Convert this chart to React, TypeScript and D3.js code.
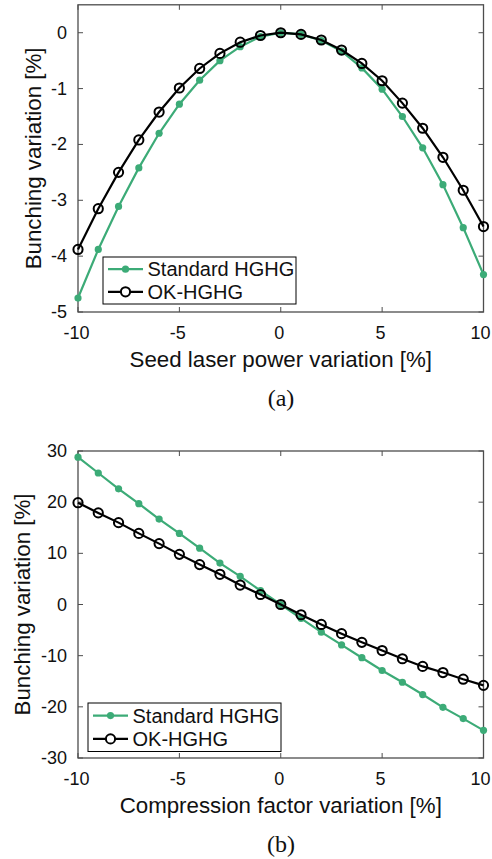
import React from 'react'
import * as d3 from 'd3'

// x positions shared by both panels
const variation = [-10, -9, -8, -7, -6, -5, -4, -3, -2, -1, 0, 1, 2, 3, 4, 5, 6, 7, 8, 9, 10]

// (a) seed laser power variation
const seedStandard = [-4.75, -3.88, -3.11, -2.42, -1.8, -1.28, -0.85, -0.5, -0.25, -0.07, 0, -0.03, -0.14, -0.33, -0.63, -1.01, -1.5, -2.06, -2.72, -3.49, -4.33]
const seedOK = [-3.88, -3.15, -2.5, -1.92, -1.42, -0.99, -0.64, -0.37, -0.17, -0.05, 0, -0.03, -0.13, -0.31, -0.55, -0.86, -1.26, -1.71, -2.23, -2.82, -3.47]

// (b) compression factor variation
const compStandard = [28.8, 25.7, 22.6, 19.7, 16.7, 13.9, 11.0, 8.1, 5.5, 2.7, 0, -2.7, -5.4, -7.9, -10.4, -12.9, -15.2, -17.6, -20.1, -22.3, -24.6]
const compOK = [19.9, 17.9, 16.0, 13.9, 11.9, 9.8, 7.8, 5.9, 3.8, 1.95, 0, -2.0, -3.9, -5.7, -7.4, -9.0, -10.6, -12.1, -13.3, -14.6, -15.8]

const xTicks = [-10, -5, 0, 5, 10]
const yTicksA = [-5, -4, -3, -2, -1, 0]
const yTicksB = [-30, -20, -10, 0, 10, 20, 30]

const seriesNames = ['Standard HGHG', 'OK-HGHG']

const GREEN = '#3cab77'
const AXIS = '#4d4d4d'
const FONT = '"Liberation Sans", Arial, Helvetica, sans-serif'

type PanelProps = {
  top: number
  bottom: number
  yDomain: [number, number]
  yTicks: number[]
  standard: number[]
  ok: number[]
  xLabel: string
  caption: string
  yLabelX: number
  legend: { x: number; y: number; w: number; h: number }
}

function Panel(p: PanelProps) {
  const left = 78
  const right = 483.5
  const x = d3.scaleLinear().domain([-10, 10]).range([left, right])
  const y = d3.scaleLinear().domain(p.yDomain).range([p.bottom, p.top])

  const line = d3.line<number>()
    .x((d, i) => x(variation[i]))
    .y(d => y(d))

  const tl = 5
  const lg = p.legend
  const row1 = lg.y + lg.h * 0.26
  const row2 = lg.y + lg.h * 0.74

  return (
    <g>
      {/* ticks, inside, on all four sides */}
      {xTicks.map(t => {
        // keep the last label inside the page like the original
        const last = t === xTicks[xTicks.length - 1]
        return (
          <g key={'xt' + t}>
            <line x1={x(t)} x2={x(t)} y1={p.bottom} y2={p.bottom - tl} stroke={AXIS} />
            <line x1={x(t)} x2={x(t)} y1={p.top} y2={p.top + tl} stroke={AXIS} />
            <text x={last ? 490.5 : x(t) - 1.5} y={p.bottom + 21} textAnchor={last ? 'end' : 'middle'}
              dominantBaseline="central" fontFamily={FONT} fontSize={18} fill="#111">{t}</text>
          </g>
        )
      })}
      {p.yTicks.map(t => (
        <g key={'yt' + t}>
          <line x1={left} x2={left + tl} y1={y(t)} y2={y(t)} stroke={AXIS} />
          <line x1={right} x2={right - tl} y1={y(t)} y2={y(t)} stroke={AXIS} />
          <text x={left - 11} y={y(t)} textAnchor="end" dominantBaseline="central"
            fontFamily={FONT} fontSize={18} fill="#111">{t}</text>
        </g>
      ))}
      <rect x={left} y={p.top} width={right - left} height={p.bottom - p.top}
        fill="none" stroke={AXIS} strokeWidth={1.3} />

      <path d={line(p.standard) || ''} fill="none" stroke={GREEN} strokeWidth={2.2} />
      {p.standard.map((v, i) => (
        <circle key={'s' + i} cx={x(variation[i])} cy={y(v)} r={3.6} fill={GREEN} />
      ))}
      <path d={line(p.ok) || ''} fill="none" stroke="#000" strokeWidth={2.2} />
      {p.ok.map((v, i) => (
        <circle key={'o' + i} cx={x(variation[i])} cy={y(v)} r={4.6} fill="none" stroke="#000" strokeWidth={2} />
      ))}

      {/* legend */}
      <rect x={lg.x} y={lg.y} width={lg.w} height={lg.h} fill="#fff" stroke="#000" strokeWidth={1} />
      <line x1={lg.x + 5} x2={lg.x + 40} y1={row1} y2={row1} stroke={GREEN} strokeWidth={2.2} />
      <circle cx={lg.x + 22.5} cy={row1} r={3.6} fill={GREEN} />
      <text x={lg.x + 44.5} y={row1} dominantBaseline="central" fontFamily={FONT} fontSize={20} fill="#111">{seriesNames[0]}</text>
      <line x1={lg.x + 5} x2={lg.x + 40} y1={row2} y2={row2} stroke="#000" strokeWidth={2.2} />
      <circle cx={lg.x + 22.5} cy={row2} r={4.6} fill="#fff" stroke="#000" strokeWidth={2} />
      <text x={lg.x + 44.5} y={row2} dominantBaseline="central" fontFamily={FONT} fontSize={20} fill="#111">{seriesNames[1]}</text>

      <text transform={`translate(${p.yLabelX},${(p.top + p.bottom) / 2}) rotate(-90)`}
        textAnchor="middle" dominantBaseline="central" fontFamily={FONT} fontSize={22.3} fill="#111">
        Bunching variation [%]
      </text>
      <text x={(left + right) / 2} y={p.bottom + 47} textAnchor="middle" dominantBaseline="central"
        fontFamily={FONT} fontSize={22.3} fill="#111">{p.xLabel}</text>
      <text x={281} y={p.bottom + 86} textAnchor="middle" dominantBaseline="central"
        fontFamily='"Liberation Serif", "Times New Roman", serif' fontSize={24} fill="#111">{p.caption}</text>
    </g>
  )
}

export default function App() {
  return (
    <svg width={492} height={859} style={{ position: 'absolute', left: 0, top: 0, background: '#fff' }}>
      <rect width={492} height={859} fill="#fff" />
      <Panel top={4.8} bottom={312} yDomain={[-5, 0.5]} yTicks={yTicksA}
        standard={seedStandard} ok={seedOK}
        xLabel="Seed laser power variation [%]" caption="(a)" yLabelX={33}
        legend={{ x: 103, y: 257, w: 193, h: 47 }} />
      <Panel top={451} bottom={758} yDomain={[-30, 30]} yTicks={yTicksB}
        standard={compStandard} ok={compOK}
        xLabel="Compression factor variation [%]" caption="(b)" yLabelX={22}
        legend={{ x: 88, y: 703, w: 193, h: 48.5 }} />
    </svg>
  )
}
